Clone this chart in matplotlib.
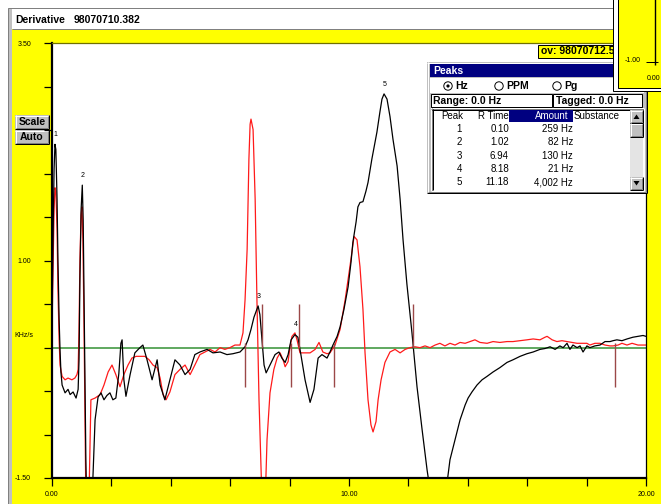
import numpy as np
import matplotlib
matplotlib.use("Agg")
import matplotlib.pyplot as plt
from matplotlib.patches import Rectangle, Circle, Polygon

# ---------------- data ----------------
# derivative of the sample run (black) and the overlaid run (red), KHz/s vs minutes
black_t = [0.00, 0.03, 0.07, 0.10, 0.13, 0.17, 0.20, 0.24, 0.27, 0.30, 0.34, 0.44, 0.54, 0.61,
           0.71, 0.81, 0.88, 0.91, 0.94, 0.98, 1.02, 1.05, 1.08, 1.11, 1.14, 1.18, 1.28, 1.35,
           1.45, 1.55, 1.65, 1.75, 1.85, 1.95, 2.05, 2.15, 2.25, 2.32, 2.36, 2.42, 2.49, 2.63,
           2.79, 2.96, 3.06, 3.20, 3.37, 3.54, 3.64, 3.80, 3.97, 4.14, 4.31, 4.48, 4.65, 4.81,
           4.98, 5.22, 5.42, 5.66, 5.89, 6.09, 6.33, 6.50, 6.60, 6.70, 6.80, 6.94, 7.00, 7.07,
           7.14, 7.21, 7.34, 7.51, 7.64, 7.74, 7.85, 7.95, 8.05, 8.18, 8.28, 8.38, 8.52, 8.69,
           8.82, 8.96, 9.09, 9.26, 9.36, 9.46, 9.60, 9.70, 9.83, 9.97, 10.07, 10.13, 10.24,
           10.30, 10.37, 10.47, 10.57, 10.64, 10.77, 10.94, 11.04, 11.11, 11.18, 11.28, 11.38,
           11.48, 11.62, 11.72, 11.82, 11.95, 12.12, 12.22, 12.29, 12.46, 12.63, 12.73, 13.00,
           13.27, 13.40, 13.57, 13.74, 13.91, 14.01, 14.14, 14.31, 14.48, 14.65, 14.85, 15.08,
           15.32, 15.52, 15.76, 15.99, 16.20, 16.43, 16.60, 16.77, 16.94, 17.10, 17.21, 17.34,
           17.44, 17.54, 17.68, 17.78, 17.88, 18.01, 18.11, 18.28, 18.45, 18.62, 18.79, 18.89,
           19.02, 19.19, 19.36, 19.56, 19.73, 19.90, 20.00]
black_v = [0.32, 1.13, 2.05, 2.34, 2.28, 1.71, 1.01, 0.32, -0.02, -0.28, -0.43, -0.52, -0.48,
           -0.54, -0.51, -0.58, -0.48, -0.14, 0.78, 1.59, 1.87, 1.47, 0.55, -0.37, -1.29, -1.98,
           -2.20, -1.75, -0.83, -0.57, -0.52, -0.60, -0.55, -0.52, -0.60, -0.58, -0.30, 0.05,
           0.09, -0.37, -0.56, -0.31, -0.06, 0.00, 0.03, -0.14, -0.37, -0.14, -0.43, -0.60,
           -0.37, -0.14, -0.20, -0.31, -0.25, -0.08, -0.05, -0.02, -0.06, -0.05, -0.08, -0.07,
           -0.05, 0.01, 0.09, 0.21, 0.35, 0.48, 0.38, 0.09, -0.20, -0.29, -0.20, -0.08, -0.05,
           -0.12, -0.17, -0.08, 0.09, 0.15, 0.12, -0.08, -0.37, -0.63, -0.48, -0.12, -0.08,
           -0.12, -0.05, 0.03, 0.13, 0.24, 0.44, 0.70, 0.99, 1.21, 1.45, 1.62, 1.67, 1.68, 1.80,
           1.90, 2.17, 2.48, 2.71, 2.86, 2.92, 2.86, 2.66, 2.40, 2.09, 1.71, 1.24, 0.73, 0.17,
           -0.20, -0.45, -0.94, -1.41, -1.64, -2.10, -1.64, -1.29, -1.06, -0.83, -0.66, -0.58,
           -0.51, -0.43, -0.37, -0.33, -0.28, -0.23, -0.17, -0.14, -0.10, -0.07, -0.05, -0.02,
           -0.01, 0.01, -0.02, 0.02, 0.00, 0.05, -0.02, 0.03, 0.00, 0.02, -0.05, 0.02, 0.00,
           0.02, 0.03, 0.07, 0.07, 0.08, 0.09, 0.08, 0.10, 0.12, 0.13, 0.14, 0.13]

red_t = [0.00, 0.03, 0.07, 0.10, 0.13, 0.17, 0.20, 0.24, 0.27, 0.34, 0.44, 0.54, 0.67, 0.77,
         0.84, 0.88, 0.91, 0.94, 0.98, 1.01, 1.04, 1.08, 1.11, 1.14, 1.19, 1.25, 1.31, 1.45,
         1.62, 1.75, 1.89, 2.02, 2.15, 2.29, 2.42, 2.56, 2.69, 2.83, 2.96, 3.13, 3.27, 3.40,
         3.54, 3.64, 3.74, 3.84, 3.97, 4.14, 4.31, 4.48, 4.65, 4.81, 4.98, 5.15, 5.32, 5.49,
         5.66, 5.82, 5.99, 6.16, 6.33, 6.43, 6.50, 6.57, 6.63, 6.67, 6.70, 6.77, 6.84, 6.90,
         6.97, 7.04, 7.10, 7.17, 7.24, 7.34, 7.47, 7.58, 7.68, 7.78, 7.85, 7.95, 8.01, 8.08,
         8.18, 8.25, 8.35, 8.52, 8.69, 8.86, 8.99, 9.12, 9.26, 9.36, 9.53, 9.70, 9.87, 10.03,
         10.17, 10.27, 10.37, 10.47, 10.54, 10.64, 10.74, 10.81, 10.91, 10.98, 11.08, 11.21,
         11.38, 11.55, 11.72, 11.89, 12.05, 12.22, 12.39, 12.56, 12.73, 12.90, 13.06, 13.23,
         13.40, 13.57, 13.74, 13.91, 14.07, 14.24, 14.41, 14.65, 14.85, 15.08, 15.32, 15.52,
         15.76, 15.99, 16.20, 16.43, 16.60, 16.67, 16.84, 17.00, 17.17, 17.34, 17.51, 17.68,
         17.85, 18.01, 18.11, 18.28, 18.45, 18.62, 18.79, 18.89, 19.06, 19.19, 19.36, 19.53,
         19.73, 19.90, 20.00]
red_v = [0.21, 0.78, 1.59, 1.84, 1.80, 1.36, 0.67, 0.09, -0.20, -0.33, -0.37, -0.35, -0.37,
         -0.35, -0.31, -0.25, 0.21, 1.01, 1.53, 1.62, 1.24, 0.21, -0.83, -1.75, -2.10, -1.64,
         -0.60, -0.58, -0.54, -0.43, -0.28, -0.20, -0.31, -0.45, -0.31, -0.20, -0.12, -0.10,
         -0.10, -0.10, -0.14, -0.20, -0.23, -0.35, -0.54, -0.60, -0.51, -0.31, -0.25, -0.20,
         -0.31, -0.20, -0.08, -0.05, -0.02, -0.05, 0.00, -0.02, 0.00, 0.03, 0.03, 0.17, 0.55,
         1.13, 2.17, 2.57, 2.63, 2.51, 1.71, 0.55, -0.60, -1.41, -2.10, -1.87, -1.06, -0.52,
         -0.25, -0.12, -0.06, -0.14, -0.22, -0.16, 0.00, 0.13, 0.17, 0.09, -0.06, -0.06, -0.06,
         -0.02, 0.06, -0.05, -0.07, -0.06, 0.03, 0.21, 0.55, 0.93, 1.28, 1.24, 0.93, 0.44,
         -0.06, -0.60, -0.89, -0.97, -0.85, -0.60, -0.37, -0.17, -0.05, -0.02, -0.06, -0.02,
         0.00, 0.01, 0.00, 0.02, 0.00, 0.03, 0.05, 0.02, 0.05, 0.03, 0.06, 0.05, 0.07, 0.09,
         0.06, 0.05, 0.07, 0.06, 0.07, 0.07, 0.08, 0.09, 0.10, 0.09, 0.12, 0.13, 0.09, 0.07,
         0.08, 0.07, 0.06, 0.05, 0.05, 0.05, 0.03, 0.05, 0.05, 0.03, 0.02, 0.02, 0.03, 0.05,
         0.03, 0.05, 0.03, 0.03, 0.03]

# integration markers: peak starts hang below the baseline, peak ends stand above it
start_marks = [6.50, 8.05, 9.49, 18.96]
end_marks = [7.07, 8.32, 12.15]

# peak table
peak_ids = [1, 2, 3, 4, 5]
peak_times = [0.10, 1.02, 6.94, 8.18, 11.18]
peak_amounts = [259, 82, 130, 21, 4002]

y_ticks_labeled = {3.5: "3.50", 1.0: "1.00", -1.5: "-1.50"}
x_ticks_labeled = {0: "0.00", 10: "10.00", 20: "20.00"}

W, H = 661, 504
UI = "Liberation Sans"
YELLOW = "#ffff00"
NAVY = "#000080"
GRAY = "#c0c0c0"
DARK = "#808080"

fig = plt.figure(figsize=(W / 100, H / 100), dpi=100)
fig.patch.set_facecolor("white")


def px_axes(z):
    a = fig.add_axes([0, 0, 1, 1], zorder=z)
    a.set_xlim(0, W)
    a.set_ylim(H, 0)
    a.axis("off")
    return a


def rect(a, x0, y0, x1, y1, fc, ec="none", lw=0.0, z=1):
    a.add_patch(Rectangle((x0, y0), x1 - x0, y1 - y0, facecolor=fc, edgecolor=ec,
                          linewidth=lw, zorder=z))


def hline(a, x0, x1, y, c, w=1.0, z=2):
    a.plot([x0, x1], [y, y], color=c, lw=0.72 * w, solid_capstyle="butt", zorder=z)


def vline(a, x, y0, y1, c, w=1.0, z=2):
    a.plot([x, x], [y0, y1], color=c, lw=0.72 * w, solid_capstyle="butt", zorder=z)


def bevel(a, x0, y0, x1, y1, z=3, raised=True):
    lt, rb = ("white", "black") if raised else (DARK, "white")
    hline(a, x0, x1, y0 + 0.5, lt, z=z)
    vline(a, x0 + 0.5, y0, y1, lt, z=z)
    hline(a, x0, x1, y1 - 0.5, rb, z=z)
    vline(a, x1 - 0.5, y0, y1, rb, z=z)
    if raised:
        hline(a, x0 + 1, x1 - 1, y1 - 1.5, DARK, z=z)
        vline(a, x1 - 1.5, y0 + 1, y1 - 1, DARK, z=z)


def label(a, x, y, s, size=7.5, weight="bold", ha="left", color="black", z=5):
    return a.text(x, y, s, fontsize=size, fontweight=weight, family=UI, ha=ha, va="center",
                  color=color, zorder=z)


# ---------------- window background ----------------
bg = px_axes(0)
rect(bg, 12, 29, W, H, YELLOW)
rect(bg, 8, 8, 12, H, GRAY)
vline(bg, 8, 7.5, H, DARK)
hline(bg, 8, 613, 8, DARK)
hline(bg, 12, 613, 28.5, DARK)
label(bg, 15, 20, "Derivative", size=7.5)
label(bg, 74, 20, "98070710.382", size=7.5)

for y0, y1, s in [(115, 129, "Scale"), (130, 144, "Auto")]:
    rect(bg, 15, y0, 49, y1, GRAY, z=2)
    bevel(bg, 15, y0, 49, y1)
    label(bg, 32, (y0 + y1) / 2, s, ha="center")

# ---------------- chromatogram axes ----------------
left, right, top, bottom = 52, 646, 43.5, 478
ax = fig.add_axes([left / W, (H - bottom) / H, (right - left) / W, (bottom - top) / H], zorder=1)
ax.set_facecolor("white")
ax.set_xlim(0, 20)
ax.set_ylim(-1.5, 3.5)

ax.axhline(0, color="#5fa85f", lw=1.4, zorder=1)
ax.plot(red_t, red_v, color="#ff1a1a", lw=0.9, zorder=2)
ax.plot(black_t, black_v, color="black", lw=0.9, zorder=3)
ax.vlines(start_marks, -0.45, 0.05, color="#9b4848", lw=1.0, zorder=4)
ax.vlines(end_marks, 0.0, 0.5, color="#9b4848", lw=1.0, zorder=4)

# peak numbers above the tips of the sample trace
for pid, pt in zip(peak_ids, peak_times):
    tip = np.interp(pt, black_t, black_v)
    ax.annotate(str(pid), (pt, tip), xytext=(0.5, 7), textcoords="offset points",
                ha="center", va="center", fontsize=5, family=UI, zorder=5)

yt = np.arange(-1.5, 3.51, 0.5)
ax.set_yticks(yt)
ax.set_yticklabels([y_ticks_labeled.get(round(v, 2), "") for v in yt])
xt = np.arange(0, 20.1, 2)
ax.set_xticks(xt)
ax.set_xticklabels([x_ticks_labeled.get(int(v), "") for v in xt])
ax.tick_params(axis="y", length=6, width=0.9, pad=9, labelsize=5)
ax.tick_params(axis="x", length=5.5, width=0.9, pad=4, labelsize=5)
for lab in ax.get_xticklabels() + ax.get_yticklabels():
    lab.set_family(UI)
ax.spines["left"].set_linewidth(1.6)
ax.spines["bottom"].set_linewidth(1.6)
ax.spines["right"].set_linewidth(0.9)
ax.spines["top"].set_linewidth(0.9)
ax.spines["top"].set_color("#707000")
ax.annotate("KHz/s", (0, 0), xycoords=("axes fraction", "data"), xytext=(-27.4, 8.6),
            textcoords="offset points", ha="left", va="center", fontsize=5, family=UI)

# ---------------- floating windows ----------------
fg = px_axes(2)

# overlay file tag
rect(fg, 538, 45, 640, 58, YELLOW, ec="black", lw=0.72, z=1)
label(fg, 541, 51.5, "ov: 98070712.5", size=7.5, z=2)

# peaks dialog
rect(fg, 427, 62, 647, 193, GRAY, z=3)
bevel(fg, 427, 62, 647, 193, z=4)
rect(fg, 430, 64, 644, 77, NAVY, z=4)
label(fg, 433, 70.5, "Peaks", color="white", z=5)
rect(fg, 430, 78, 644, 93, "white", z=4)
for cx, s, on in [(448, "Hz", True), (499, "PPM", False), (557, "Pg", False)]:
    fg.add_patch(Circle((cx, 86), 4.2, facecolor="white", edgecolor="black", lw=0.7, zorder=5))
    if on:
        fg.add_patch(Circle((cx, 86), 1.6, facecolor="black", edgecolor="none", zorder=6))
    label(fg, cx + 7, 86, s, z=6)
rect(fg, 431, 94, 552, 107, "white", ec="black", lw=0.72, z=4)
label(fg, 433, 100.5, "Range: 0.0 Hz")
rect(fg, 553, 94, 642, 107, "white", ec="black", lw=0.72, z=4)
label(fg, 556, 100.5, "Tagged: 0.0 Hz")
rect(fg, 431, 108, 644, 191, "white", z=4)
bevel(fg, 431, 108, 644, 191, z=5, raised=False)
hline(fg, 432, 643, 109.5, "black", z=5)
vline(fg, 432.5, 109, 190, "black", z=5)

rect(fg, 509, 110, 573, 122, NAVY, z=5)
label(fg, 452, 116, "Peak", size=7, weight="normal", ha="center", z=6)
label(fg, 509, 116, "R Time", size=7, weight="normal", ha="right", z=6)
label(fg, 568, 116, "Amount", size=7, weight="normal", ha="right", color="white", z=6)
label(fg, 574, 116, "Substance", size=7, weight="normal", z=6)
for i, (pid, pt, amt) in enumerate(zip(peak_ids, peak_times, peak_amounts)):
    ry = 129 + i * 13.3
    label(fg, 462, ry, str(pid), size=7, weight="normal", ha="right", z=6)
    label(fg, 509, ry, f"{pt:.2f}", size=7, weight="normal", ha="right", z=6)
    label(fg, 573, ry, f"{amt:,} Hz", size=7, weight="normal", ha="right", z=6)

# list scroll bar
rect(fg, 630, 110, 643, 190, "#e4e4e4", z=6)
for y0, y1 in [(110, 123), (123, 137), (177, 190)]:
    rect(fg, 630, y0, 643, y1, GRAY, z=7)
    bevel(fg, 630, y0, 643, y1, z=8)
fg.add_patch(Polygon([[633.5, 119], [639.5, 119], [636.5, 114.5]], closed=True,
                     facecolor="black", zorder=9))
fg.add_patch(Polygon([[633.5, 181], [639.5, 181], [636.5, 185.5]], closed=True,
                     facecolor="black", zorder=9))

# corner of a second trace window
rect(fg, 613, -1, W + 1, 91, "white", ec="black", lw=0.72, z=10)
rect(fg, 617.5, -1, W + 1, 88, YELLOW, ec="black", lw=0.72, z=11)
label(fg, 641, 61, "-1.00", size=5, weight="normal", ha="right", z=12)
hline(fg, 646, 658, 61.5, "black", z=12)
vline(fg, 655, -1, 65, "black", w=1.4, z=12)
label(fg, 647, 79, "0.00", size=5, weight="normal", z=12)

fig.savefig("out.png", dpi=100)
